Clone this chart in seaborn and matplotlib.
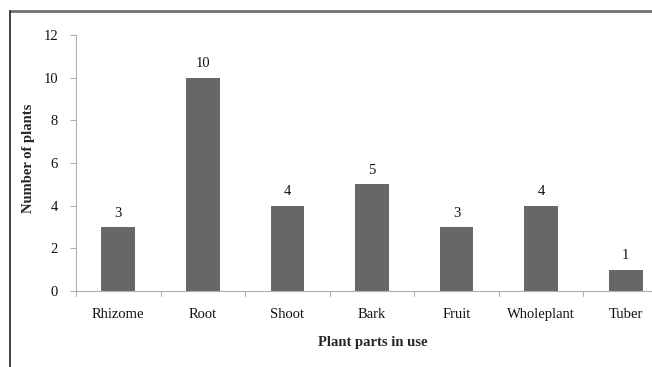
import matplotlib
matplotlib.use("Agg")
import matplotlib.pyplot as plt
import seaborn as sns
import pandas as pd
from matplotlib.lines import Line2D

categories = ["Rhizome", "Root", "Shoot", "Bark", "Fruit", "Wholeplant", "Tuber"]
values = [3, 10, 4, 5, 3, 4, 1]
y_ticks = [0, 2, 4, 6, 8, 10, 12]

sns.set_theme(style="white")
plt.rcParams['font.family'] = ['Liberation Serif', 'DejaVu Serif']

df = pd.DataFrame({"part": categories, "count": values})

W, H = 652, 367
fig = plt.figure(figsize=(W / 100, H / 100), dpi=100)
ax_left, ax_right, ax_top, ax_bottom = 76, 668, 35, 291
ax = fig.add_axes([ax_left / W, 1 - ax_bottom / H, (ax_right - ax_left) / W, (ax_bottom - ax_top) / H])

sns.barplot(data=df, x="part", y="count", color="#676767", saturation=1, width=0.4, ax=ax)
for p in ax.patches:
    p.set_edgecolor("none")

fs = 10.5
ax.set_ylim(0, 12)
ax.set_xlim(-0.5, len(categories) - 0.5)
ax.set_yticks(y_ticks)
ax.set_yticklabels([str(t) for t in y_ticks], fontsize=fs)
ax.tick_params(axis='x', labelsize=fs, length=0, pad=12, labelcolor="#111111")
ax.tick_params(axis='y', length=4, width=0.8, color="#b0b0b0", left=True, pad=9, labelcolor="#111111")

for s in ["top", "right"]:
    ax.spines[s].set_visible(False)
for s in ["left", "bottom"]:
    ax.spines[s].set_color("#b0b0b0")
    ax.spines[s].set_linewidth(0.8)

# x tick marks between categories
for i in range(len(categories) + 1):
    ax.plot([i - 0.5, i - 0.5], [0, -0.25], color="#b0b0b0", lw=0.8, clip_on=False)

for i, v in enumerate(values):
    ax.text(i, v + 0.35, str(v), ha="center", va="bottom", fontsize=fs, color="#111111")

ax.set_xlabel("Plant parts in use", fontsize=fs, fontweight="bold")
ax.set_ylabel("Number of plants", fontsize=fs, fontweight="bold")
ax.xaxis.set_label_coords(0.5017, -0.203)
ax.yaxis.set_label_coords(-0.0794, 0.52)
ax.xaxis.label.set_va("center")
ax.yaxis.label.set_va("center")

# outer frame (top and left)
fig.add_artist(Line2D([10 / W, 1], [1 - 11 / H, 1 - 11 / H], transform=fig.transFigure, color="#707070", lw=2))
fig.add_artist(Line2D([10 / W, 10 / W], [1 - 11 / H, 0], transform=fig.transFigure, color="#222222", lw=1.2))

fig.savefig("out.png", dpi=100)
